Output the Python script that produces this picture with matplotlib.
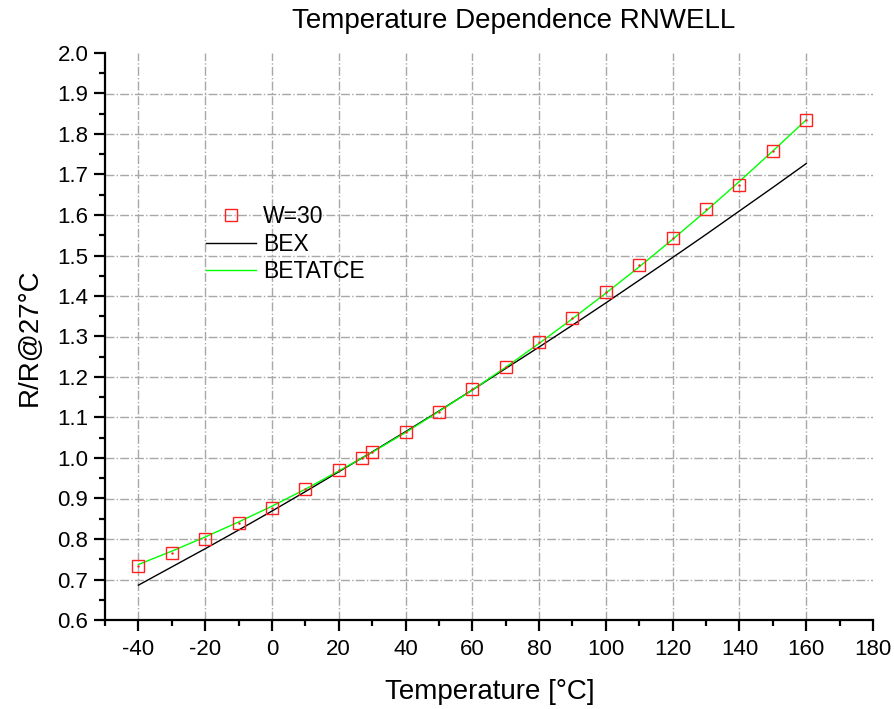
import matplotlib
matplotlib.use("Agg")
import matplotlib.pyplot as plt
from matplotlib.ticker import MultipleLocator, FixedLocator, FormatStrFormatter

plt.rcParams['font.family'] = ['Liberation Sans', 'DejaVu Sans']

# Measured data (W=30)
temp_meas = [-40, -30, -20, -10, 0, 10, 20, 27, 30, 40, 50, 60, 70, 80, 90, 100, 110, 120, 130, 140, 150, 160]
r_meas = [0.733, 0.765, 0.800, 0.840, 0.877, 0.923, 0.970, 1.000, 1.015, 1.064, 1.114, 1.170, 1.225, 1.286,
          1.346, 1.410, 1.477, 1.543, 1.615, 1.674, 1.758, 1.835]

# Model curves
temp_model = [-40, -30, -20, -10, 0, 10, 20, 30, 40, 50, 60, 70, 80, 90, 100, 110, 120, 130, 140, 150, 160]
r_bex = [0.686, 0.731, 0.776, 0.822, 0.869, 0.917, 0.966, 1.015, 1.065, 1.116, 1.168, 1.221, 1.274, 1.328,
         1.383, 1.439, 1.495, 1.552, 1.610, 1.668, 1.727]
r_betatce = [0.737, 0.770, 0.805, 0.842, 0.881, 0.923, 0.968, 1.014, 1.063, 1.115, 1.168, 1.224, 1.283, 1.344,
             1.407, 1.472, 1.540, 1.610, 1.683, 1.758, 1.835]

xticks = [-40, -20, 0, 20, 40, 60, 80, 100, 120, 140, 160, 180]
title = "Temperature Dependence RNWELL"
xlabel = "Temperature [°C]"
ylabel = "R/R@27°C"

fig = plt.figure(figsize=(8.95, 7.09), dpi=100)
ax = fig.add_axes([105/895, 1-620/709, (873-105)/895, (620-53)/709])

ax.set_xlim(-50, 180)
ax.set_ylim(0.6, 2.0)

# grid (interior major ticks only)
for xv in xticks[:-1]:
    ax.axvline(xv, color='#a8a8a8', lw=1.0, ls='-.', zorder=0)
for i in range(7, 20):
    ax.axhline(i / 10, color='#a8a8a8', lw=1.0, ls='-.', zorder=0)

ax.plot(temp_model, r_bex, color='black', lw=1.0, label='BEX', zorder=2)
ax.plot(temp_model, r_betatce, color='#00ff00', lw=1.0, label='BETATCE', zorder=3)
ax.plot(temp_meas, r_meas, ls='none', marker='s', ms=8.3, mfc='none', mec='#ff2020', mew=1.0,
        label='W=30', zorder=4)
ax.plot(temp_meas, r_meas, ls='none', marker='.', ms=1.5, color='#ff2020', zorder=5)

ax.xaxis.set_major_locator(FixedLocator(xticks))
ax.set_xticklabels([str(v) for v in xticks])
ax.xaxis.set_minor_locator(MultipleLocator(10))
ax.yaxis.set_major_locator(MultipleLocator(0.1))
ax.yaxis.set_minor_locator(MultipleLocator(0.05))
ax.yaxis.set_major_formatter(FormatStrFormatter('%.1f'))

for s in ['top', 'right']:
    ax.spines[s].set_visible(False)
for s in ['left', 'bottom']:
    ax.spines[s].set_linewidth(1.6)

ax.tick_params(which='major', direction='out', length=8, width=1.6, labelsize=16)
ax.tick_params(which='minor', direction='out', length=4.5, width=1.6)
ax.tick_params(axis='x', which='major', pad=6)
ax.tick_params(axis='y', which='major', pad=4)

ax.set_xlabel(xlabel, fontsize=20)
ax.set_ylabel(ylabel, fontsize=20)
ax.xaxis.set_label_coords(490/895, 1-692/709, transform=fig.transFigure)
ax.yaxis.set_label_coords(30/895, 1-337/709, transform=fig.transFigure)
ax.xaxis.label.set_va('center')
ax.yaxis.label.set_va('center')
fig.text(514/895, 1-21/709, title, ha='center', va='center', fontsize=20)

handles, labels = ax.get_legend_handles_labels()
order = [2, 0, 1]
leg = ax.legend([handles[i] for i in order], [labels[i] for i in order],
                frameon=False, fontsize=16.5, loc='upper left',
                bbox_to_anchor=(206/895, 1-205/709), bbox_transform=fig.transFigure,
                handlelength=2.2, handletextpad=0.28, labelspacing=0.2,
                borderaxespad=0, borderpad=0)

fig.savefig('out.png', dpi=100)
